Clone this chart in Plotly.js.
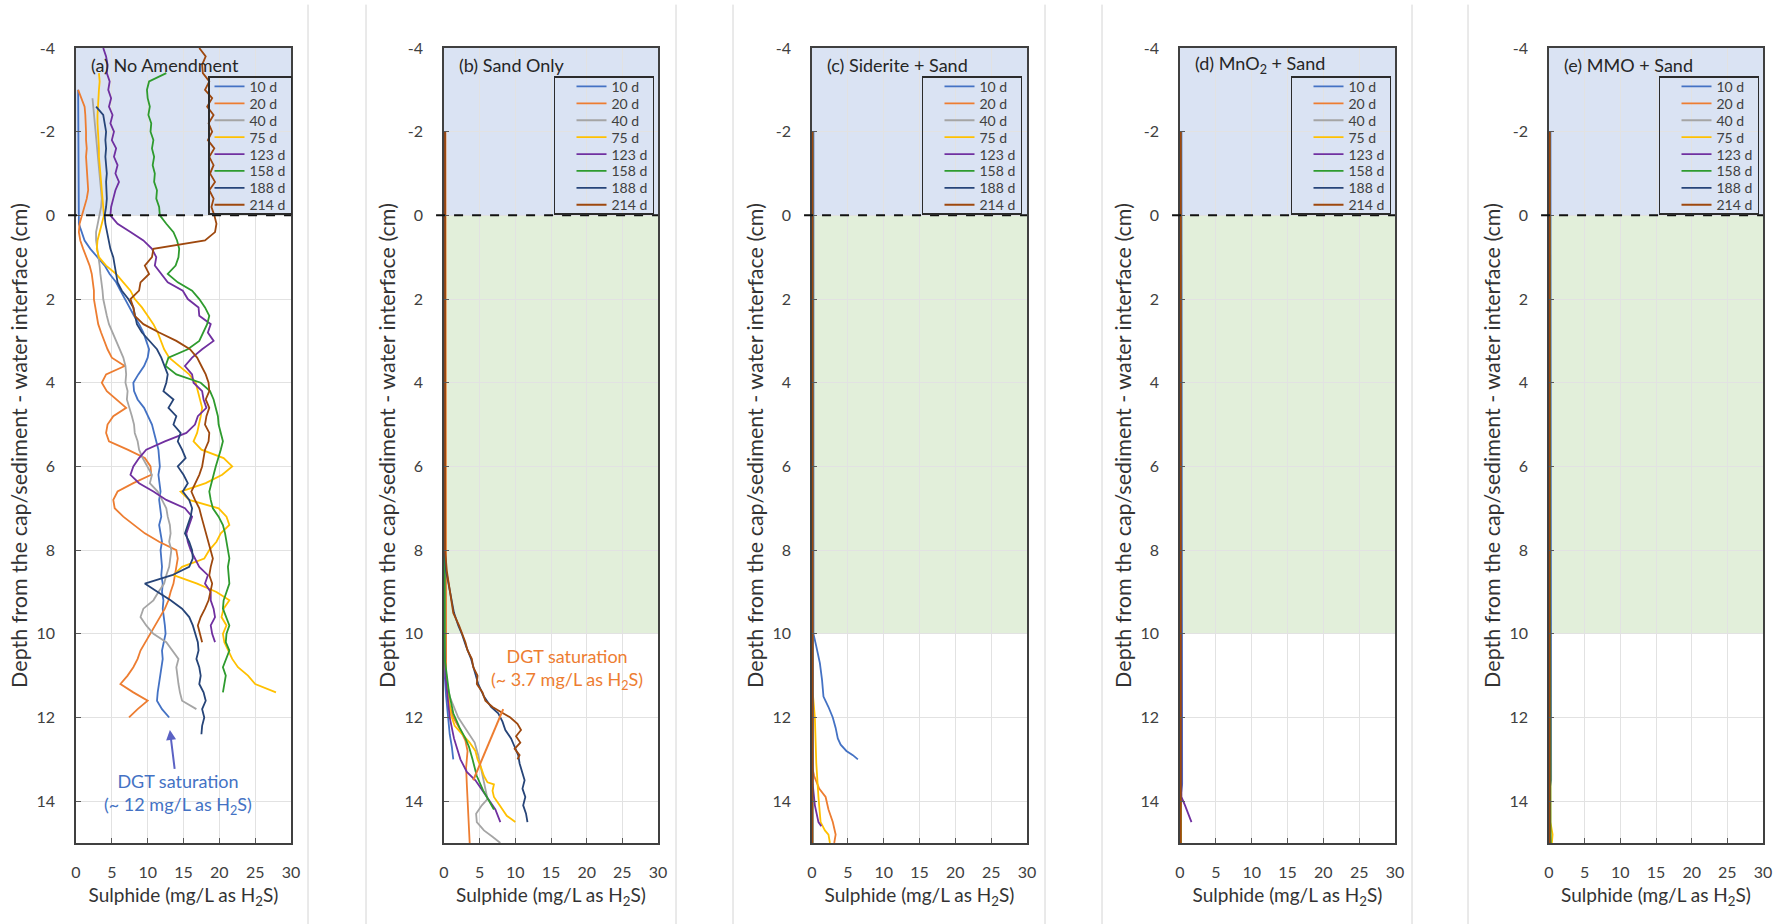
<!DOCTYPE html>
<html>
<head>
<meta charset="utf-8">
<script src="https://cdn.plot.ly/plotly-3.0.1.min.js"></script>
<style>
html,body{margin:0;padding:0;background:#ffffff;}
#chart{width:1787px;height:924px;}
</style>
</head>
<body>
<div id="chart"></div>
<script>
// ---------------- DATA ----------------
const seriesNames = ['10 d','20 d','40 d','75 d','123 d','158 d','188 d','214 d'];
const seriesColors = ['#4472C4','#ED7D31','#A5A5A5','#FFC000','#7030A0','#2E9B2E','#264478','#9E480E'];
const panelTitles = ['(a) No Amendment','(b) Sand Only','(c) Siderite + Sand','(d) MnO<sub>2</sub> + Sand','(e) MMO + Sand'];
const xTicks = [0,5,10,15,20,25,30];
const yTicks = [-4,-2,0,2,4,6,8,10,12,14];
const yTickText = ['-4','-2','0','2','4','6','8','10','12','14'];

// Panel (a): shared depth grid (cm) and sulphide values (mg/L)
const depthA = [
 -4.0,-3.8,-3.6,-3.4,-3.2,-3.0,-2.8,-2.6,-2.4,-2.2,
 -2.0,-1.8,-1.6,-1.4,-1.2,-1.0,-0.8,-0.6,-0.4,-0.2,
  0.0, 0.2, 0.4, 0.6, 0.8, 1.0, 1.2, 1.4, 1.6, 1.8,
  2.0, 2.2, 2.4, 2.6, 2.8, 3.0, 3.2, 3.4, 3.6, 3.8,
  4.0, 4.2, 4.4, 4.6, 4.8, 5.0, 5.2, 5.4, 5.6, 5.8,
  6.0, 6.2, 6.4, 6.6, 6.8, 7.0, 7.2, 7.4, 7.6, 7.8,
  8.0, 8.2, 8.4, 8.6, 8.8, 9.0, 9.2, 9.4, 9.6, 9.8,
 10.0,10.2,10.4,10.6,10.8,11.0,11.2,11.4,11.6,11.8,
 12.0,12.2,12.4,12.6];
const a10 = [
 null,null,null,null,null,0.3,0.3,0.4,0.3,0.3,
 0.3,0.4,0.3,0.3,0.4,0.3,0.3,0.4,0.3,0.3,
 0.3,0.4,0.8,1.2,2.0,3.0,4.0,4.7,5.6,6.2,
 6.8,7.4,8.1,8.8,9.4,9.8,10.2,10.0,9.5,8.7,
 8.0,8.1,8.6,9.5,10.0,10.6,10.9,11.2,11.5,11.6,
 11.7,11.5,11.6,11.8,11.6,11.7,11.9,11.6,11.8,12.0,
 11.8,11.9,12.0,11.9,12.1,12.0,12.2,12.1,12.3,12.4,
 12.5,12.2,12.0,12.1,11.9,11.7,11.5,11.4,11.3,12.0,
 13.0,null,null,null];
const a20 = [
 null,null,null,null,null,0.3,0.8,1.2,1.3,1.4,
 1.4,1.4,1.5,1.4,1.5,1.6,1.6,1.7,1.5,1.2,
 0.8,0.5,0.4,0.6,1.0,1.5,1.9,2.2,2.4,2.5,
 2.5,2.7,2.9,3.1,3.5,3.9,4.4,5.0,6.8,4.2,
 3.6,4.3,5.7,7.0,5.2,4.4,4.2,4.6,7.2,9.6,
 10.4,10.5,8.0,5.8,5.2,5.4,6.6,8.1,9.6,11.6,
 14.0,14.2,14.0,13.7,13.6,13.2,12.9,12.4,11.7,11.1,
 10.3,9.6,9.0,8.6,8.0,7.2,6.2,8.0,10.0,8.6,
 7.4,null,null,null];
const a40 = [
 null,null,null,null,null,null,2.3,2.4,2.5,2.6,
 2.8,2.9,3.0,3.0,3.1,3.2,3.3,3.4,3.6,3.5,
 3.3,3.0,2.8,2.8,3.0,3.2,3.3,3.4,3.6,3.7,
 3.8,4.0,4.3,4.6,5.1,5.6,6.1,6.6,6.9,7.0,
 6.9,7.2,7.1,7.5,7.8,8.1,8.2,8.6,8.8,9.3,
 10.0,10.6,10.3,11.4,12.0,12.6,12.8,13.1,13.2,13.0,
 13.3,13.1,13.0,12.6,12.3,11.5,10.8,9.4,9.0,9.8,
 10.8,12.6,13.5,14.3,14.0,14.1,14.3,14.5,14.8,16.8,
 null,null,null,null];
const a75 = [
 null,null,null,3.2,3.3,3.2,3.1,3.1,3.0,3.0,
 3.1,3.1,3.2,3.2,3.3,3.4,3.5,3.6,3.7,3.8,
 3.9,3.6,3.3,3.0,2.9,3.2,4.2,5.6,6.6,7.6,
 8.2,9.2,10.0,10.8,11.4,11.9,12.3,13.0,14.4,15.8,
 16.7,17.0,17.3,17.6,17.4,17.2,16.9,16.4,17.5,20.6,
 21.8,20.4,18.1,14.6,15.8,19.9,21.0,21.4,20.2,19.6,
 18.6,17.9,14.8,13.6,16.9,19.6,21.4,20.6,20.3,21.0,
 20.5,20.7,21.2,21.8,22.6,24.0,25.0,27.9,null,null,
 null,null,null,null];
const a123 = [
 3.8,4.2,4.4,4.3,4.7,4.5,4.9,4.6,5.1,4.8,
 5.3,5.0,5.6,5.3,5.8,5.5,6.0,5.5,5.2,4.9,
 4.8,5.8,7.6,9.4,10.6,11.2,11.0,11.9,12.8,14.9,
 15.6,17.1,17.2,18.8,18.4,19.2,17.6,16.2,15.2,16.2,
 16.4,17.6,17.8,18.2,17.0,16.6,15.4,12.4,9.8,8.8,
 8.0,7.6,8.8,10.8,12.6,15.2,16.2,15.8,15.4,15.6,
 16.0,16.6,17.2,18.4,18.0,18.8,18.8,19.2,19.4,18.8,
 19.0,19.4,null,null,null,null,null,null,null,null,
 null,null,null,null];
const a158 = [
 null,null,null,12.6,10.2,9.9,10.0,10.3,10.1,10.5,
 10.4,10.8,10.6,10.9,10.7,11.0,10.9,11.3,11.2,11.6,
 11.7,12.6,13.6,14.1,14.4,14.3,13.9,12.8,14.2,16.2,
 17.2,18.0,18.6,18.3,17.8,17.2,15.6,12.9,12.5,14.0,
 17.4,18.7,19.2,19.5,19.8,19.9,20.2,20.5,20.2,19.8,
 19.5,19.2,18.9,18.6,18.8,19.1,19.9,20.5,20.8,21.0,
 21.2,21.4,21.2,21.3,21.4,21.0,20.6,20.5,21.0,21.4,
 21.0,20.9,21.4,21.0,20.5,20.9,20.7,20.5,null,null,
 null,null,null,null];
const a188 = [
 null,null,null,null,null,null,null,2.8,3.8,4.0,
 4.2,4.1,4.2,4.1,4.2,4.3,4.2,4.3,4.3,4.2,
 4.0,4.1,4.3,4.6,4.8,5.2,5.4,5.6,5.8,6.4,
 7.3,8.0,8.2,8.5,9.2,10.3,11.3,11.9,12.3,12.8,
 12.6,12.2,13.6,12.9,14.0,13.6,14.6,14.2,14.8,15.3,
 14.2,15.0,15.6,14.9,15.8,16.2,16.0,15.6,15.2,15.8,
 16.2,16.3,15.8,13.4,9.6,11.4,13.2,14.8,15.8,16.3,
 16.6,17.0,17.1,16.8,17.2,17.4,17.2,17.8,18.1,17.6,
 17.9,17.6,17.5,null];
const a214 = [
 17.2,18.1,17.6,17.7,18.6,18.0,19.0,18.3,19.2,18.5,
 19.0,18.4,19.3,18.6,19.2,18.7,19.4,18.6,19.2,18.9,
 19.3,19.6,19.4,18.0,10.8,10.6,9.6,10.2,9.0,8.8,
 7.6,8.0,8.2,9.4,11.6,14.0,15.9,16.9,17.5,18.1,
 18.5,18.6,18.1,18.6,18.2,18.0,18.6,18.5,18.0,17.8,
 17.6,17.2,16.6,16.1,16.6,17.2,17.5,17.8,18.1,18.5,
 18.8,19.1,18.8,18.6,19.0,18.7,18.5,18.0,17.4,17.0,
 17.3,17.6,null,null,null,null,null,null,null,null,
 null,null,null,null];

// Panels (b)-(e): [depth (cm), sulphide (mg/L)] pairs
const b10  = [[-2,0.05],[10,0.05],[11,0.1],[11.5,0.3],[12,0.6],[12.4,0.8],[12.7,1.1],[13,1.3]];
const b20  = [[-2,0.2],[10,0.2],[11,0.3],[11.6,0.6],[12,1.3],[12.3,2.3],[12.55,3.0],[12.8,3.3],[13.2,3.1],[13.6,3.2],[14,3.3],[14.5,3.5],[15,3.6]];
const b40  = [[-2,0.05],[10.5,0.05],[11,0.2],[11.5,0.8],[12,2.0],[12.3,3.2],[12.6,4.3],[12.9,4.8],[13.2,5.2],[13.5,5.6],[13.8,5.9],[13.95,6.1],[14.1,5.3],[14.3,4.5],[14.5,4.6],[14.7,5.6],[14.85,6.8],[15,7.9]];
const b75  = [[-2,0.05],[10,0.05],[10.8,0.2],[11.4,0.6],[11.9,0.9],[12.2,1.5],[12.4,2.6],[12.6,3.6],[12.8,4.4],[13,4.7],[13.2,5.2],[13.4,5.6],[13.55,6.1],[13.6,7.0],[13.75,6.8],[13.9,7.0],[14.1,7.8],[14.35,8.8],[14.5,10.0]];
const b123 = [[-2,0.05],[10,0.05],[11,0.2],[11.6,0.5],[12,0.8],[12.5,1.4],[13,2.3],[13.3,3.2],[13.5,4.4],[13.7,5.2],[13.9,6.0],[14.2,7.2],[14.5,7.9]];
const b158 = [[-2,0.1],[10.6,0.1],[11,0.4],[11.4,0.7],[11.9,1.3],[12.25,2.2],[12.5,3.0],[12.7,3.5],[13,4.0],[13.4,4.6],[13.75,5.5],[14,6.4],[14.2,7.0]];
const b188 = [[-2,0.05],[8,0.1],[8.5,0.3],[9,0.8],[9.5,1.4],[9.8,2.0],[10,2.5],[10.3,3.1],[10.6,3.8],[10.9,4.3],[11.2,4.8],[11.5,5.6],[11.75,6.6],[11.9,7.6],[12.1,8.2],[12.3,8.6],[12.5,9.4],[12.7,9.9],[12.9,10.4],[13.1,10.6],[13.3,10.9],[13.5,11.3],[13.7,11.0],[13.9,11.4],[14.1,11.1],[14.3,11.5],[14.5,11.7]];
const b214 = [[-2,0.15],[8,0.15],[8.5,0.4],[9,0.9],[9.5,1.3],[9.8,2.1],[10,2.6],[10.2,3.0],[10.4,3.3],[10.6,3.9],[10.8,4.1],[11,4.7],[11.2,4.6],[11.4,5.4],[11.6,5.8],[11.75,6.8],[11.85,7.8],[12,9.3],[12.15,10.3],[12.3,10.8],[12.45,10.1],[12.6,10.7],[12.75,9.9],[12.9,10.6],[13,10.3]];

const c10  = [[-2,0.2],[10,0.2],[10.3,0.6],[10.7,1.1],[11.1,1.4],[11.5,1.6],[11.75,2.3],[12,2.9],[12.25,3.3],[12.5,3.6],[12.65,4.0],[12.8,4.8],[12.9,5.7],[13,6.4]];
const c20  = [[-2,0.05],[13.2,0.05],[13.4,0.3],[13.7,1.0],[13.9,1.9],[14.2,2.3],[14.5,2.9],[14.8,3.3],[15,3.1]];
const c40  = [[-2,0.05],[15,0.05]];
const c75  = [[-2,0.05],[11.4,0.1],[12,0.4],[13.1,0.6],[13.9,0.9],[14.5,1.2],[14.7,1.8],[14.8,2.3],[15,2.5]];
const c123 = [[-2,0.05],[13.5,0.05],[13.6,0.1],[14.1,0.4],[14.5,0.9],[14.6,1.3]];
const c158 = [[-2,0.05],[15,0.05]];
const c188 = [[-2,0.05],[15,0.05]];
const c214 = [[-2,0.05],[15,0.05]];

const d10  = [[-2,0.2],[13.6,0.3],[13.8,0.15]];
const d20  = [[-2,0.05],[15,0.05]];
const d40  = [[-2,0.05],[15,0.05]];
const d75  = [[-2,0.05],[14.6,0.05],[15,0.15]];
const d123 = [[-2,0.05],[13.9,0.2],[14.1,0.7],[14.3,1.2],[14.5,1.6]];
const d158 = [[-2,0.05],[15,0.05]];
const d188 = [[-2,0.05],[15,0.05]];
const d214 = [[-2,0.1],[15,0.1]];

const e10  = [[-2,0.2],[13.5,0.3],[13.7,0.1]];
const e20  = [[-2,0.05],[15,0.05]];
const e40  = [[-2,0.05],[15,0.05]];
const e75  = [[-2,0.05],[14.5,0.2],[14.8,0.5],[15,0.4]];
const e123 = [[-2,0.05],[15,0.05]];
const e158 = [[-2,0.05],[14,0.1],[14.5,0.2],[15,0.25]];
const e188 = [[-2,0.05],[15,0.05]];
const e214 = [[-2,0.1],[15,0.1]];

// ---------------- LAYOUT GEOMETRY ----------------
const W = 1787, H = 924;
const FONT = 'Lato, "Open Sans", "Noto Sans", sans-serif';
const panelPx = [[76,291],[444,658],[812,1027],[1180,1395],[1549,1763]];
const legendRightPx = [292,654,1022,1391,1759];
const legendWidthPx = [null,99,99,99,99];
const plotTopPx = 48, plotBottomPx = 843, legendTopPx = 76;
const separatorsPx = [308,366,676,733,1045,1102,1412,1468];

const panelAData = [a10,a20,a40,a75,a123,a158,a188,a214];
const panelPairs = [
  null,
  [b10,b20,b40,b75,b123,b158,b188,b214],
  [c10,c20,c40,c75,c123,c158,c188,c214],
  [d10,d20,d40,d75,d123,d158,d188,d214],
  [e10,e20,e40,e75,e123,e158,e188,e214]
];

const traces = [];
const layout = {
  width: W, height: H,
  margin: {l:0, r:0, t:0, b:0},
  paper_bgcolor: '#ffffff',
  plot_bgcolor: 'rgba(0,0,0,0)',
  font: {family: FONT, color: '#404040'},
  showlegend: true,
  shapes: [],
  annotations: []
};

const yDom = [1 - plotBottomPx/H, 1 - plotTopPx/H];

for (let k = 0; k < 5; k++) {
  const sfx = k === 0 ? '' : String(k+1);
  const xa = 'x' + sfx, ya = 'y' + sfx;
  const legId = 'legend' + sfx;

  for (let s = 0; s < 8; s++) {
    let xs, ys;
    if (k === 0) { xs = panelAData[s]; ys = depthA; }
    else { xs = panelPairs[k][s].map(p => p[1]); ys = panelPairs[k][s].map(p => p[0]); }
    traces.push({
      type: 'scatter', mode: 'lines',
      x: xs, y: ys, xaxis: xa, yaxis: ya,
      name: seriesNames[s], legend: legId,
      line: {color: seriesColors[s], width: 1.8},
      connectgaps: false, hoverinfo: 'skip'
    });
  }

  layout['xaxis' + sfx] = {
    domain: [panelPx[k][0]/W, panelPx[k][1]/W],
    anchor: ya, range: [0,30], tickvals: xTicks,
    ticks: 'inside', ticklen: 5, tickwidth: 1, tickcolor: '#595959',
    showgrid: true, gridcolor: '#e2e2e2', gridwidth: 1,
    showline: true, linecolor: '#404040', linewidth: 1.5, mirror: true,
    zeroline: false, automargin: false, fixedrange: true,
    tickfont: {size: 16, color: '#404040', family: FONT},
    ticklabelstandoff: 14,
    title: {text: 'Sulphide (mg/L as H<sub>2</sub>S)', font: {size: 19, color: '#333333', family: FONT}, standoff: 9}
  };
  layout['yaxis' + sfx] = {
    domain: yDom, anchor: xa, range: [15,-4],
    tickvals: yTicks, ticktext: yTickText,
    ticks: 'inside', ticklen: 5, tickwidth: 1, tickcolor: '#595959',
    showgrid: true, gridcolor: '#e2e2e2', gridwidth: 1,
    showline: true, linecolor: '#404040', linewidth: 1.5, mirror: true,
    zeroline: false, automargin: false, fixedrange: true,
    tickfont: {size: 16, color: '#404040', family: FONT},
    ticklabelstandoff: 16,
    title: {text: 'Depth from the cap/sediment - water interface (cm)', font: {size: 21.5, color: '#333333', family: FONT}, standoff: 3}
  };

  layout[legId] = {
    x: legendRightPx[k]/W, xanchor: 'right',
    y: 1 - legendTopPx/H, yanchor: 'top',
    bgcolor: 'rgba(0,0,0,0)', bordercolor: '#2b2b2b', borderwidth: 1.5,
    font: {size: 14, color: '#404040', family: FONT},
    itemwidth: 30, tracegroupgap: 0
  };

  // overlying water (blue) zone
  layout.shapes.push({type:'rect', layer:'below', xref:xa, yref:ya, x0:0, x1:30, y0:-4, y1:0,
    fillcolor:'#DAE3F3', line:{width:0}});
  // cap layer (green) zone for capped columns
  if (k > 0) {
    layout.shapes.push({type:'rect', layer:'below', xref:xa, yref:ya, x0:0, x1:30, y0:0, y1:10,
      fillcolor:'#E2EFDA', line:{width:0}});
  }
  // dashed cap/sediment-water interface
  layout.shapes.push({type:'line', layer:'above', xref:xa + ' domain', yref:ya, x0:-0.037, x1:1, y0:0, y1:0,
    line:{color:'#111111', width:2, dash:'dash'}});

  layout.annotations.push({
    xref: xa + ' domain', yref: ya + ' domain', x: 0.06, y: 0.979,
    xanchor: 'left', yanchor: 'middle', showarrow: false,
    text: panelTitles[k], font: {size: 18, color: '#262626', family: FONT}
  });
}

separatorsPx.forEach(px => {
  layout.shapes.push({type:'line', xref:'paper', yref:'paper', x0:px/W, x1:px/W, y0:0, y1:0.995,
    line:{color:'#d4d4d4', width:1}});
});

// DGT saturation notes
layout.annotations.push({xref:'x', yref:'y', x:13.1, y:12.3, axref:'x', ayref:'y', ax:14.2, ay:13.84,
  text:'DGT saturation<br>(~ 12 mg/L as H<sub>2</sub>S)', font:{size:18, color:'#4472C4', family:FONT},
  showarrow:true, arrowhead:2, arrowsize:1, arrowwidth:2, arrowcolor:'#5B62C4', standoff:0, startstandoff:0});
layout.annotations.push({xref:'x2', yref:'y2', x:17.24, y:10.84, showarrow:false,
  text:'DGT saturation<br>(~ 3.7 mg/L as H<sub>2</sub>S)', font:{size:18, color:'#ED7D31', family:FONT},
  xanchor:'center', yanchor:'middle'});
layout.shapes.push({type:'line', layer:'above', xref:'x2', yref:'y2', x0:8.3, y0:11.8, x1:4.1, y1:13.5,
  line:{color:'#ED7D31', width:2}});

// Excel-style compact legend rows
function tightenLegends(gd, step) {
  ['legend','legend2','legend3','legend4','legend5'].forEach((id, k) => {
    const g = gd.querySelector('g.infolayer > g.' + id);
    if (!g) return;
    const items = Array.from(g.querySelectorAll('g.traces'));
    if (items.length < 2) return;
    const pos = items.map(el => {
      const m = /translate\(\s*([-\d.e]+)[ ,]+([-\d.e]+)\s*\)/.exec(el.getAttribute('transform') || '');
      return m ? [parseFloat(m[1]), parseFloat(m[2])] : null;
    });
    if (pos.some(p => !p)) return;
    const old = pos[1][1] - pos[0][1];
    const shrink = old - step;
    if (shrink <= 0) return;
    const y0 = pos[0][1] - shrink / 2 - 4.5;
    items.forEach((el, i) => el.setAttribute('transform', 'translate(' + pos[i][0] + ',' + (y0 + i * step) + ')'));
    const bg = g.querySelector('rect.bg');
    if (bg) {
      const h = parseFloat(bg.getAttribute('height'));
      bg.setAttribute('height', h - shrink * items.length - 10);
      const target = legendWidthPx[k];
      const w = parseFloat(bg.getAttribute('width'));
      if (target && target > w) {
        const x = parseFloat(bg.getAttribute('x') || '0');
        bg.setAttribute('x', x - (target - w));
        bg.setAttribute('width', target);
      }
    }
  });
}

Plotly.newPlot('chart', traces, layout, {displayModeBar: false, responsive: false})
  .then(gd => tightenLegends(gd, 16.9));
</script>
</body>
</html>
